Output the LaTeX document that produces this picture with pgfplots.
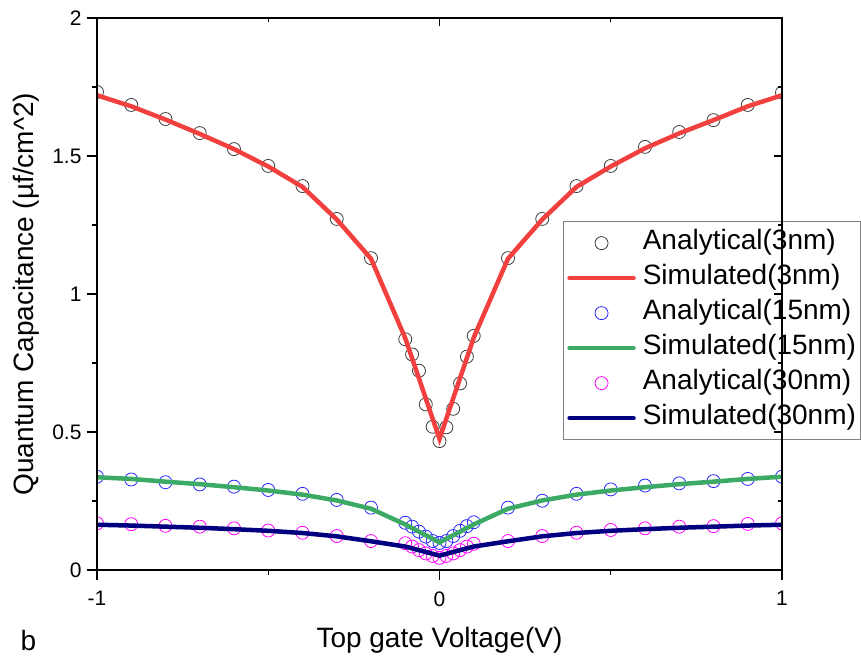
\documentclass[border=0pt]{standalone}
\usepackage{fontspec}
\setmainfont{Liberation Sans}
\usepackage{pgfplots}
\pgfplotsset{compat=1.18}
\usepackage{pgfplotstable}

\definecolor{simred}{RGB}{242,64,62}
\definecolor{simgreen}{RGB}{60,170,100}
\definecolor{simnavy}{RGB}{0,0,128}
\definecolor{anablack}{RGB}{60,60,60}
\definecolor{anablue}{RGB}{40,40,255}
\definecolor{anamag}{RGB}{255,0,255}
\definecolor{legframe}{RGB}{130,130,130}

\pgfplotstableread{
x y
-1 1.732
-0.9 1.685
-0.8 1.634
-0.7 1.583
-0.6 1.525
-0.5 1.464
-0.4 1.391
-0.3 1.272
-0.2 1.130
-0.1 0.836
-0.08 0.781
-0.06 0.722
-0.04 0.600
-0.02 0.519
0 0.467
0.02 0.517
0.04 0.584
0.06 0.676
0.08 0.773
0.1 0.848
0.2 1.130
0.3 1.272
0.4 1.391
0.5 1.464
0.6 1.533
0.7 1.587
0.8 1.630
0.9 1.685
1 1.730
}\anaA

\pgfplotstableread{
x y
-1 1.720
-0.9 1.680
-0.8 1.632
-0.7 1.580
-0.6 1.525
-0.5 1.462
-0.4 1.388
-0.3 1.270
-0.2 1.128
-0.1 0.840
0 0.475
0.1 0.842
0.2 1.128
0.3 1.270
0.4 1.388
0.5 1.462
0.6 1.528
0.7 1.582
0.8 1.630
0.9 1.680
1 1.720
}\simA

\pgfplotstableread{
x y
-1 0.338
-0.9 0.328
-0.8 0.318
-0.7 0.310
-0.6 0.302
-0.5 0.290
-0.4 0.276
-0.3 0.254
-0.2 0.226
-0.1 0.171
-0.08 0.157
-0.06 0.139
-0.04 0.121
-0.02 0.105
0 0.098
0.02 0.105
0.04 0.123
0.06 0.142
0.08 0.159
0.1 0.173
0.2 0.226
0.3 0.251
0.4 0.276
0.5 0.292
0.6 0.306
0.7 0.314
0.8 0.322
0.9 0.330
1 0.338
}\anaB

\pgfplotstableread{
x y
-1 0.336
-0.9 0.330
-0.8 0.320
-0.7 0.311
-0.6 0.300
-0.5 0.288
-0.4 0.273
-0.3 0.252
-0.2 0.222
-0.1 0.165
0 0.100
0.1 0.165
0.2 0.222
0.3 0.252
0.4 0.273
0.5 0.288
0.6 0.300
0.7 0.311
0.8 0.320
0.9 0.330
1 0.338
}\simB

\pgfplotstableread{
x y
-1 0.169
-0.9 0.166
-0.8 0.160
-0.7 0.157
-0.6 0.151
-0.5 0.143
-0.4 0.135
-0.3 0.123
-0.2 0.105
-0.1 0.097
-0.08 0.085
-0.06 0.072
-0.04 0.060
-0.02 0.051
0 0.044
0.02 0.051
0.04 0.060
0.06 0.072
0.08 0.085
0.1 0.095
0.2 0.105
0.3 0.123
0.4 0.135
0.5 0.145
0.6 0.151
0.7 0.157
0.8 0.159
0.9 0.167
1 0.169
}\anaC

\pgfplotstableread{
x y
-1 0.164
-0.9 0.161
-0.8 0.157
-0.7 0.153
-0.6 0.148
-0.5 0.142
-0.4 0.134
-0.3 0.122
-0.2 0.104
-0.1 0.085
0 0.052
0.1 0.085
0.2 0.104
0.3 0.122
0.4 0.134
0.5 0.142
0.6 0.148
0.7 0.153
0.8 0.157
0.9 0.161
1 0.164
}\simC

\pgfplotsset{
  linelegend/.style={legend image code/.code={\draw[line cap=round] (0bp,0bp) -- (64bp,0bp);}},
  marklegend/.style={legend image code/.code={\path (0bp,0bp) (64bp,0bp); \draw plot coordinates {(32bp,0bp)};}},
}

\begin{document}
\begin{tikzpicture}
\begin{axis}[
  scale only axis, width=685bp, height=552bp,
  xmin=-1, xmax=1, ymin=0, ymax=2,
  xtick={-1,0,1}, minor xtick={-0.5,0.5},
  ytick={0,0.5,1,1.5,2}, minor ytick={0.25,0.75,1.25,1.75},
  xtick pos=bottom, ytick pos=left,
  tick align=outside,
  major tick length=10bp, minor tick length=5bp,
  every tick/.style={black, line width=1.3bp},
  axis line style={line width=1.3bp},
  /pgf/number format/assume math mode=true,
  ticklabel style={font=\fontsize{21bp}{25bp}\selectfont},
  xticklabel style={yshift=-8bp},
  yticklabel style={xshift=-2bp},
  xlabel={Top gate Voltage(V)},
  ylabel={Quantum Capacitance (µf/cm\textasciicircum 2)},
  xlabel style={font=\fontsize{28bp}{33bp}\selectfont, at={(axis description cs:0.5,-0.1395)}, anchor=base},
  ylabel style={font=\fontsize{28bp}{33bp}\selectfont, at={(axis description cs:-0.0934,0.5)}, anchor=base},
  clip marker paths=true,
  legend cell align=left,
  legend style={at={(axis description cs:0.680,0.632)}, anchor=north west,
    draw=legframe, line width=1bp, inner sep=4bp,
    font=\fontsize{28bp}{33bp}\selectfont,
    nodes={inner xsep=0bp, inner ysep=3.75bp, text height=20bp, text depth=7.5bp},
    column sep=7bp},
]
\coordinate (BL) at (rel axis cs:0,0);
\coordinate (TR) at (rel axis cs:1,1);
\addplot[marklegend, only marks, mark=o, mark size=6.5bp, mark options={draw=anablack, line width=0.8bp}] table[x=x,y=y] {\anaA};
\addlegendentry{Analytical(3nm)}
\addplot[linelegend, simred, line width=4.5bp, no marks] table[x=x,y=y] {\simA};
\addlegendentry{Simulated(3nm)}
\addplot[marklegend, only marks, mark=o, mark size=6.5bp, mark options={draw=anablue, line width=0.8bp}] table[x=x,y=y] {\anaB};
\addlegendentry{Analytical(15nm)}
\addplot[linelegend, simgreen, line width=4.5bp, no marks] table[x=x,y=y] {\simB};
\addlegendentry{Simulated(15nm)}
\addplot[marklegend, only marks, mark=o, mark size=6.5bp, mark options={draw=anamag, line width=0.8bp}] table[x=x,y=y] {\anaC};
\addlegendentry{Analytical(30nm)}
\addplot[linelegend, simnavy, line width=4.5bp, no marks] table[x=x,y=y] {\simC};
\addlegendentry{Simulated(30nm)}
\end{axis}
\begin{axis}[
  scale only axis, width=685bp, height=552bp,
  xmin=-1, xmax=1, ymin=0, ymax=2,
  xtick={-1,0,1}, minor xtick={-0.5,0.5},
  ytick={0,0.5,1,1.5,2}, minor ytick={0.25,0.75,1.25,1.75},
  xtick pos=top, ytick pos=right,
  tick align=inside,
  major tick length=8bp, minor tick length=4bp,
  every tick/.style={black, line width=1.3bp},
  axis line style={line width=1.3bp},
  xticklabels={}, yticklabels={},
]
\end{axis}
\node[anchor=base west, font=\fontsize{28bp}{33bp}\selectfont] at ([shift={(-80bp,-80bp)}]BL) {b};
\pgfresetboundingbox
\path[use as bounding box] ([shift={(-97bp,-92bp)}]BL) rectangle ([shift={(79bp,18bp)}]TR);
\end{tikzpicture}
\end{document}
